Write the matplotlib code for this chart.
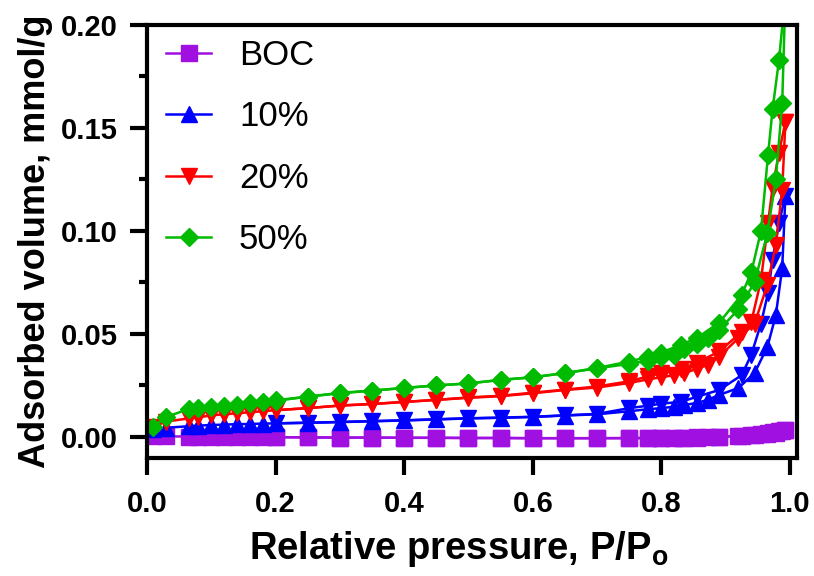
import matplotlib
matplotlib.use("Agg")
import matplotlib.pyplot as plt
from matplotlib.ticker import MultipleLocator

plt.rcParams['font.family'] = ['Liberation Sans', 'DejaVu Sans']
plt.rcParams['mathtext.fontset'] = 'custom'
plt.rcParams['mathtext.rm'] = 'Liberation Sans:bold'

# relative pressure, adsorption and desorption branches
p_ads = [0.01, 0.03, 0.065, 0.08, 0.10, 0.12, 0.14, 0.16, 0.18, 0.20, 0.25, 0.30,
         0.35, 0.40, 0.45, 0.50, 0.55, 0.60, 0.65, 0.70, 0.75, 0.78, 0.80, 0.82,
         0.835, 0.855, 0.872, 0.89, 0.92, 0.945, 0.965, 0.978, 0.988, 0.993]
p_des = [0.993, 0.983, 0.973, 0.966, 0.955, 0.94, 0.925, 0.89, 0.855, 0.83, 0.80,
         0.78, 0.75, 0.70, 0.65, 0.60, 0.55, 0.50, 0.45, 0.40, 0.35, 0.30, 0.25, 0.20]

boc_ads = [0.0005, 0.0003, 0.0002, 0.0002, 0.0001, 0.0, 0.0, 0.0, -0.0001, -0.0001,
           -0.0002, -0.0003, -0.0003, -0.0004, -0.0004, -0.0005, -0.0005, -0.0006,
           -0.0006, -0.0006, -0.0006, -0.0005, -0.0005, -0.0004, -0.0004, -0.0003,
           -0.0002, 0.0, 0.0005, 0.001, 0.0015, 0.002, 0.0028, 0.0034]
boc_des = [0.0034, 0.0028, 0.0022, 0.0018, 0.0014, 0.001, 0.0006, 0.0001, -0.0002,
           -0.0003, -0.0004, -0.0005, -0.0005, -0.0006, -0.0006, -0.0006, -0.0005,
           -0.0005, -0.0004, -0.0004, -0.0003, -0.0003, -0.0002, -0.0001]

s10_ads = [0.004, 0.0045, 0.0052, 0.0055, 0.0058, 0.006, 0.0062, 0.0063, 0.0065,
           0.0066, 0.0069, 0.0072, 0.0076, 0.008, 0.0085, 0.009, 0.0093, 0.0097,
           0.0104, 0.011, 0.0125, 0.0135, 0.014, 0.0147, 0.0155, 0.0165, 0.018,
           0.0204, 0.0238, 0.031, 0.0438, 0.059, 0.082, 0.117]
s10_des = [0.117, 0.104, 0.086, 0.07, 0.055, 0.04, 0.03, 0.0228, 0.0195, 0.017,
           0.0162, 0.0152, 0.014, 0.0112, 0.0105, 0.0098, 0.0094, 0.0091, 0.0086,
           0.0081, 0.0077, 0.0073, 0.0069, 0.0066]

s20_ads = [0.005, 0.0075, 0.009, 0.0095, 0.0105, 0.011, 0.0115, 0.012, 0.0125,
           0.013, 0.014, 0.0152, 0.016, 0.017, 0.018, 0.019, 0.0198, 0.0212, 0.0228,
           0.024, 0.0262, 0.028, 0.029, 0.030, 0.031, 0.033, 0.035, 0.039, 0.048,
           0.055, 0.074, 0.093, 0.12, 0.153]
s20_des = [0.153, 0.138, 0.121, 0.104, 0.076, 0.056, 0.051, 0.0415, 0.036, 0.0328,
           0.031, 0.0295, 0.027, 0.0245, 0.023, 0.0215, 0.020, 0.0192, 0.018, 0.017,
           0.016, 0.0153, 0.014, 0.013]

s50_ads = [0.005, 0.0097, 0.0136, 0.014, 0.0147, 0.015, 0.0155, 0.0163, 0.017,
           0.0175, 0.0196, 0.0212, 0.0225, 0.0238, 0.025, 0.026, 0.0277, 0.029,
           0.031, 0.0333, 0.0355, 0.037, 0.039, 0.040, 0.0425, 0.045, 0.048, 0.052,
           0.062, 0.075, 0.099, 0.125, 0.162, 0.215]
s50_des = [0.215, 0.183, 0.159, 0.137, 0.1, 0.08, 0.069, 0.0555, 0.048, 0.0447,
           0.041, 0.039, 0.0366, 0.0335, 0.031, 0.029, 0.0277, 0.026, 0.025, 0.0238,
           0.0225, 0.0214, 0.0196, 0.0178]

fig = plt.figure(figsize=(8.14, 5.76), dpi=100)
ax = fig.add_axes([0.1806, 0.2049, 0.7985, 0.7517])

purple = '#a010e0'
blue = '#0000ff'
red = '#ff0000'
green = '#00bb00'

ax.plot(p_ads, boc_ads, color=purple, marker='s', ms=12, lw=1.8, label='BOC')
ax.plot(p_des, boc_des, color=purple, marker='s', ms=12, lw=1.8)
ax.plot(p_ads, s10_ads, color=blue, marker='^', ms=12, lw=1.8, label='10%')
ax.plot(p_des, s10_des, color=blue, marker='v', ms=12, lw=1.8)
ax.plot(p_ads, s20_ads, color=red, marker='v', ms=12, lw=1.8, label='20%')
ax.plot(p_des, s20_des, color=red, marker='v', ms=12, lw=1.8)
ax.plot(p_ads, s50_ads, color=green, marker='D', ms=9.5, lw=1.8, label='50%')
ax.plot(p_des, s50_des, color=green, marker='D', ms=9.5, lw=1.8)

ax.set_xlim(0, 1.011)
ax.set_ylim(-0.0102, 0.20)
ax.set_xticks([0.0, 0.2, 0.4, 0.6, 0.8, 1.0])
ax.set_xticklabels(['0.0', '0.2', '0.4', '0.6', '0.8', '1.0'])
ax.set_yticks([0.0, 0.05, 0.10, 0.15, 0.20])
ax.set_yticklabels(['0.00', '0.05', '0.10', '0.15', '0.20'])
ax.yaxis.set_minor_locator(MultipleLocator(0.025))

for s in ax.spines.values():
    s.set_linewidth(3)
ax.tick_params(axis='both', which='major', width=3, length=12, labelsize=21)
ax.tick_params(axis='y', which='major', pad=9)
ax.tick_params(axis='x', which='major', pad=11)
ax.tick_params(axis='y', which='minor', width=3, length=6)
for lab in ax.get_xticklabels() + ax.get_yticklabels():
    lab.set_fontweight('bold')

ax.set_xlabel(r'Relative pressure, P/P$_\mathrm{o}$', fontsize=27.5, fontweight='bold')
ax.set_ylabel('Adsorbed volume, mmol/g', fontsize=26, fontweight='bold', labelpad=6)
ax.xaxis.set_label_coords(0.48, -0.165)

leg = ax.legend(loc='upper left', frameon=False, fontsize=25, labelspacing=0.82,
                handlelength=1.3, handletextpad=0.8, borderaxespad=0.2,
                borderpad=0.2, bbox_to_anchor=(0.008, 1.0))

fig.savefig('out.png', dpi=100)
